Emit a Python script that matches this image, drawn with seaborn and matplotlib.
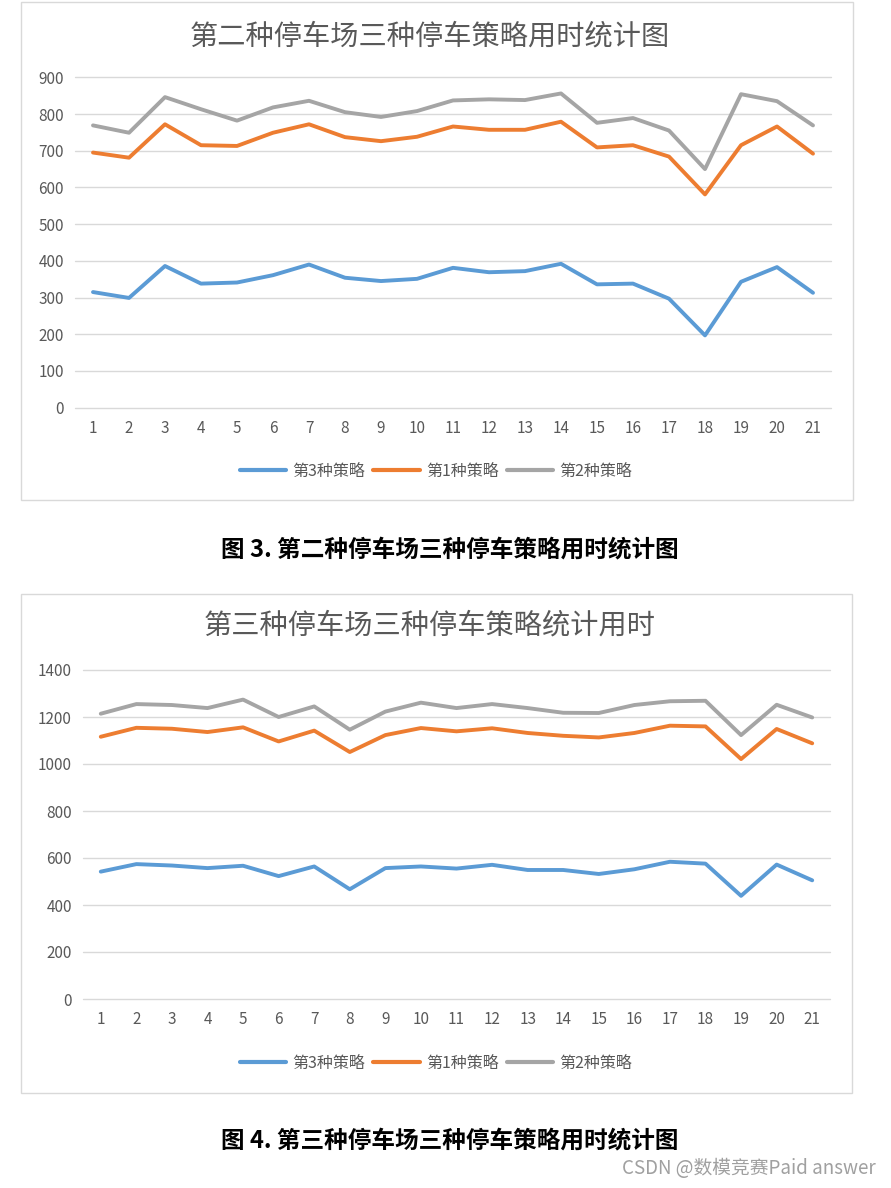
import pandas as pd
import seaborn as sns
import matplotlib.pyplot as plt
from matplotlib.patches import Rectangle

#--------------------------------------------------------------------------------------------------------------------------
# Data
runs = list(range(1, 22))
series_names = ['第3种策略', '第1种策略', '第2种策略']

# Parking lot 2
lot2_s3 = [315, 299, 386, 338, 341, 361, 390, 354, 345, 351, 381,
           369, 372, 392, 336, 338, 297, 197, 343, 383, 313]
lot2_s1 = [695, 681, 772, 715, 713, 749, 772, 737, 726, 738, 766,
           757, 757, 779, 709, 715, 684, 581, 715, 766, 692]
lot2_s2 = [769, 749, 846, 813, 782, 818, 836, 805, 792, 808, 837,
           840, 838, 856, 776, 789, 755, 650, 854, 835, 769]

# Parking lot 3
lot3_s3 = [542, 574, 568, 557, 567, 523, 564, 467, 557, 564, 555,
           571, 549, 549, 532, 552, 584, 576, 439, 572, 505]
lot3_s1 = [1116, 1154, 1150, 1136, 1156, 1096, 1142, 1051, 1123, 1153, 1139,
           1152, 1132, 1120, 1113, 1132, 1163, 1160, 1021, 1149, 1088]
lot3_s2 = [1214, 1255, 1251, 1238, 1274, 1200, 1245, 1146, 1223, 1261, 1238,
           1255, 1238, 1218, 1217, 1251, 1267, 1269, 1123, 1252, 1198]

chart_titles = ['第二种停车场三种停车策略用时统计图', '第三种停车场三种停车策略统计用时']
captions = ['图 3. 第二种停车场三种停车策略用时统计图', '图 4. 第三种停车场三种停车策略用时统计图']
palette = {'第3种策略': '#5B9BD5', '第1种策略': '#ED7D31', '第2种策略': '#A5A5A5'}

#--------------------------------------------------------------------------------------------------------------------------
sns.set_theme(style='white')
plt.rcParams['font.family'] = ['Noto Sans CJK SC', 'DejaVu Sans']

W, H = 891, 1188
fig = plt.figure(figsize=(W / 100, H / 100), dpi=100)


def px_rect(x0, y0, x1, y1):
    # pixel box (top-left origin) -> figure fraction [left, bottom, width, height]
    return [x0 / W, 1 - y1 / H, (x1 - x0) / W, (y1 - y0) / H]


def long_df(s3, s1, s2):
    df = pd.DataFrame({'run': runs, series_names[0]: s3, series_names[1]: s1, series_names[2]: s2})
    return df.melt(id_vars='run', var_name='策略', value_name='用时')


def draw_chart(df, box, plot, ymax, ystep, title, title_y, legend_y, caption, caption_y):
    # outer chart border
    fig.patches.append(Rectangle((box[0] / W, 1 - box[3] / H), (box[2] - box[0]) / W, (box[3] - box[1]) / H,
                                 transform=fig.transFigure, fill=False, edgecolor='#D9D9D9', linewidth=1))
    ax = fig.add_axes(px_rect(*plot))
    sns.lineplot(data=df, x='run', y='用时', hue='策略', hue_order=series_names, palette=palette,
                 linewidth=2.8, ax=ax, legend=False)
    ax.set_xlim(0.5, 21.5)
    ax.set_ylim(0, ymax)
    ax.set_xticks(runs)
    ax.set_yticks(range(0, ymax + 1, ystep))
    ax.grid(axis='y', color='#D9D9D9', linewidth=1)
    for gl in ax.get_ygridlines():
        gl.set_clip_on(False)
    ax.set_axisbelow(True)
    for s in ax.spines.values():
        s.set_visible(False)
    ax.tick_params(axis='both', length=0, labelsize=11, labelcolor='#595959')
    ax.tick_params(axis='x', pad=9)
    ax.tick_params(axis='y', pad=8)
    ax.set_xlabel('')
    ax.set_ylabel('')

    fig.text(430 / W, 1 - title_y / H, title, ha='center', va='center', fontsize=20.3, color='#595959')

    handles = [plt.Line2D([], [], color=palette[n], linewidth=3) for n in series_names]
    fig.legend(handles, series_names, loc='center', bbox_to_anchor=(436 / W, 1 - legend_y / H),
               ncol=3, frameon=False, fontsize=11.5, labelcolor='#595959',
               handlelength=2.9, handletextpad=0.4, columnspacing=0.5)

    fig.text(450 / W, 1 - caption_y / H, caption, ha='center', va='center', fontsize=17,
             fontweight='bold', color='black')


draw_chart(long_df(lot2_s3, lot2_s1, lot2_s2), (21, 2, 853, 500), (75, 77.3, 831, 407.7), 900, 100,
           chart_titles[0], 37, 471, captions[0], 549)
draw_chart(long_df(lot3_s3, lot3_s1, lot3_s2), (21, 594, 852, 1093), (83, 670, 830, 999), 1400, 200,
           chart_titles[1], 626, 1063, captions[1], 1140)

fig.text(876 / W, 1 - 1168 / H, 'CSDN @数模竞赛Paid answer', ha='right', va='center',
         fontsize=13.5, color='#A0A0A0')

fig.savefig('out.png', dpi=100)
